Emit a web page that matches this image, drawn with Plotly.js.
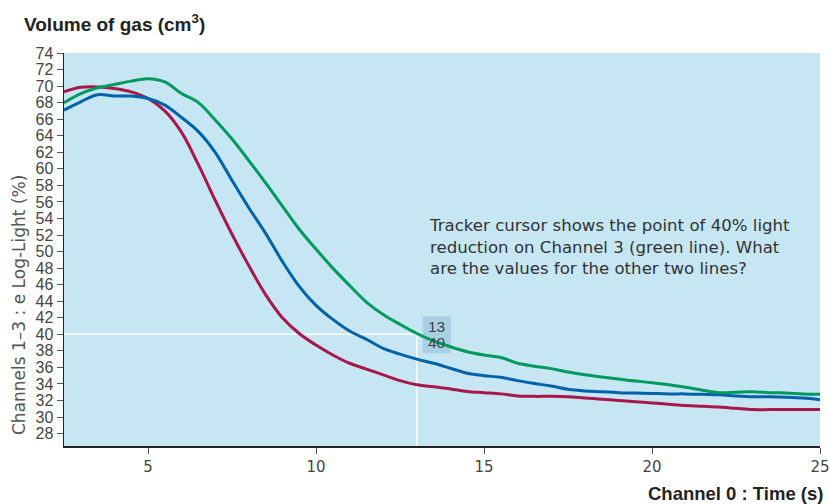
<!DOCTYPE html>
<html>
<head>
<meta charset="utf-8">
<script src="https://cdn.plot.ly/plotly-3.0.1.min.js"></script>
<style>html,body{margin:0;padding:0;background:#fff;}#chart{width:830px;height:504px;}</style>
</head>
<body>
<div id="chart"></div>
<script>
// Time (s)
const time = [2.5,3,3.5,4,4.5,5,5.5,6,6.5,7,7.5,8,8.5,9,9.5,10,10.5,11,11.5,12,12.5,13,13.5,14,14.5,15,15.5,16,16.5,17,17.5,18,18.5,19,19.5,20,20.5,21,21.5,22,22.5,23,23.5,24,24.5,25];
// Channel 1 (red)
const channel1 = [69.3,69.85,69.9,69.7,69.3,68.5,67.0,64.4,60.5,56.2,52.1,48.3,44.8,42.0,40.1,38.7,37.5,36.5,35.8,35.1,34.4,33.9,33.65,33.4,33.1,32.95,32.8,32.55,32.5,32.5,32.45,32.3,32.15,32.0,31.85,31.7,31.55,31.4,31.3,31.2,31.05,30.9,30.9,30.9,30.9,30.9];
// Channel 2 (blue)
const channel2 = [67.1,68.1,68.95,68.8,68.8,68.5,67.7,66.2,64.5,62.0,58.6,55.3,52.2,48.8,45.8,43.5,41.8,40.4,39.4,38.3,37.6,37.0,36.5,35.9,35.3,35.0,34.8,34.4,34.05,33.75,33.35,33.15,33.05,32.95,32.9,32.85,32.8,32.8,32.75,32.7,32.55,32.45,32.45,32.4,32.3,32.1];
// Channel 3 (green)
const channel3 = [68.0,69.1,69.8,70.2,70.6,70.9,70.5,69.1,68.0,65.9,63.6,61.0,58.3,55.5,52.7,50.3,48.0,45.9,43.9,42.4,41.2,40.1,39.2,38.5,37.9,37.5,37.2,36.5,36.15,35.85,35.45,35.1,34.85,34.6,34.35,34.15,33.9,33.6,33.25,32.95,33.0,33.05,32.95,32.9,32.8,32.75];
// Tracker cursor
const cursorX = 13;
const cursorY = 40;
const yTicks = [28,30,32,34,36,38,40,42,44,46,48,50,52,54,56,58,60,62,64,66,68,70,72,74];
const xTicks = [5,10,15,20,25];
const xRange = [2.5, 25];
const yRange = [26.5, 74];

const SANS = 'Liberation Sans, Arial, sans-serif';
const WIDE = 'DejaVu Sans, sans-serif';
const line = (y, color) => ({x: time, y: y, type: 'scatter', mode: 'lines',
  line: {color: color, width: 3, shape: 'spline', smoothing: 1}, hoverinfo: 'skip', showlegend: false});

const traces = [
  line(channel1, '#a8174a'),
  line(channel2, '#0062a8'),
  line(channel3, '#00995f')
];

const layout = {
  width: 830, height: 504,
  margin: {l: 64, r: 10, t: 53, b: 58},
  paper_bgcolor: '#ffffff',
  plot_bgcolor: '#c6e6f3',
  font: {family: SANS, color: '#333', size: 15},
  showlegend: false,
  xaxis: {
    range: xRange, tickvals: xTicks, ticktext: xTicks.map(String),
    showgrid: false, zeroline: false, showline: true, linecolor: '#222', linewidth: 1.5,
    ticks: 'outside', ticklen: 6, tickcolor: '#555', tickwidth: 1,
    tickfont: {family: WIDE, size: 15, color: '#444'}, fixedrange: true
  },
  yaxis: {
    range: yRange, tickvals: yTicks, ticktext: yTicks.map(String),
    showgrid: false, zeroline: false, showline: true, linecolor: '#222', linewidth: 1.5,
    ticks: 'outside', ticklen: 6, tickcolor: '#555', tickwidth: 1,
    tickfont: {family: SANS, size: 16, color: '#444'}, fixedrange: true
  },
  shapes: [
    {type: 'line', layer: 'below', xref: 'x', x0: xRange[0], x1: cursorX, yref: 'y', y0: cursorY, y1: cursorY, line: {color: '#ffffff', width: 1.5}},
    {type: 'line', layer: 'below', xref: 'x', x0: cursorX, x1: cursorX, yref: 'paper', y0: 0, y1: (cursorY - yRange[0]) / (yRange[1] - yRange[0]), line: {color: '#ffffff', width: 1.5}},
    {type: 'rect', layer: 'below', xref: 'x', yref: 'y', xsizemode: 'pixel', ysizemode: 'pixel',
     xanchor: cursorX, yanchor: cursorY, x0: 6, x1: 34, y0: -19, y1: 18, fillcolor: '#a8cfe3', line: {width: 0}}
  ],
  annotations: [
    {text: 'Volume of gas (cm<sup>3</sup>)', xref: 'paper', yref: 'paper', x: (22 - 64) / 756, y: 1 + (53 - 23) / 393,
     xanchor: 'left', yanchor: 'middle', showarrow: false, font: {family: SANS, size: 19, color: '#222', weight: 'bold'}},
    {text: 'Channel 0 : Time (s)', xref: 'paper', yref: 'paper', x: (825 - 64) / 756, y: -(493 - 446) / 393,
     xanchor: 'right', yanchor: 'middle', showarrow: false, font: {family: SANS, size: 18.5, color: '#222', weight: 'bold'}},
    {text: 'Channels 1–3 : e Log-Light (%)', xref: 'paper', yref: 'paper', x: (19 - 64) / 756, y: (446 - 305) / 393,
     xanchor: 'center', yanchor: 'middle', textangle: -90, showarrow: false, font: {family: WIDE, size: 17, color: '#555'}},
    {text: 'Tracker cursor shows the point of 40% light<br>reduction on Channel 3 (green line). What<br>are the values for the other two lines?',
     xref: 'paper', yref: 'paper', x: (427 - 64) / 756, y: (446 - 246.5) / 393, xanchor: 'left', yanchor: 'middle', align: 'left',
     showarrow: false, font: {family: WIDE, size: 16.6, color: '#333'}},
    {text: String(cursorX), xref: 'x', yref: 'y', x: cursorX, y: cursorY, xanchor: 'center', yanchor: 'middle',
     xshift: 20, yshift: 8, showarrow: false, font: {family: SANS, size: 15.5, color: '#444'}},
    {text: String(cursorY), xref: 'x', yref: 'y', x: cursorX, y: cursorY, xanchor: 'center', yanchor: 'middle',
     xshift: 20, yshift: -8, showarrow: false, font: {family: SANS, size: 15.5, color: '#444'}}
  ]
};

Plotly.newPlot('chart', traces, layout, {staticPlot: true, displayModeBar: false});
</script>
</body>
</html>
